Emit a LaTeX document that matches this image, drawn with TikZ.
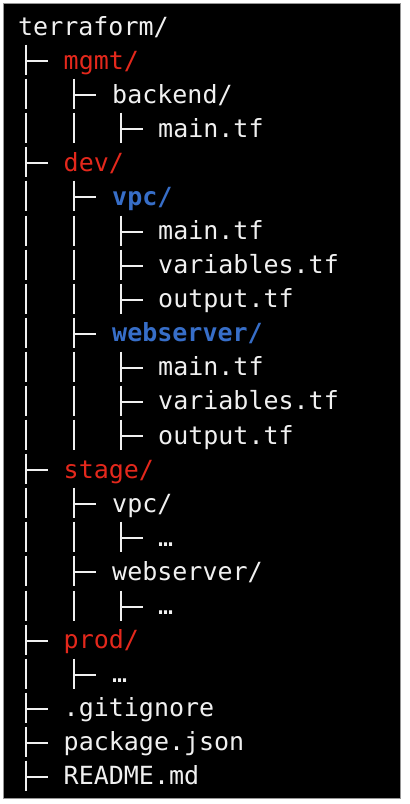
\documentclass[tikz,border=0pt]{standalone}
\usepackage{fontspec}
\setmonofont{DejaVu Sans Mono}
\definecolor{dirred}{RGB}{228,40,28}
\definecolor{dirblue}{RGB}{55,110,200}
\definecolor{ink}{RGB}{240,240,240}
\definecolor{frame}{RGB}{150,150,150}

\tikzset{
  entry/.style={anchor=base west, inner sep=0pt, text=ink,
    font=\ttfamily\fontsize{25}{25}\selectfont},
  topdir/.style={entry, text=dirred},
  subdir/.style={entry, text=dirblue,
    font=\ttfamily\bfseries\fontsize{25}{25}\selectfont},
  guide/.style={draw=ink, line width=2pt},
}

\begin{document}
\begin{tikzpicture}[x=1pt, y=-1pt]
  % page and terminal panel
  \useasboundingbox (0,0) rectangle (410,804);
  \fill[white] (0,0) rectangle (410,804);
  \draw[fill=black, draw=frame, line width=1pt] (3.5,3.5) rectangle (400.5,798.5);

  % tree guides: row / depth; verticals at every depth, stub at the deepest
  \foreach \r/\lv in {1/1,2/2,3/3,4/1,5/2,6/3,7/3,8/3,9/2,10/3,11/3,12/3,
                      13/1,14/2,15/3,16/2,17/3,18/1,19/2,20/1,21/1,22/1}{
    \pgfmathsetmacro\by{round(35+34.09*\r)}
    \foreach \k in {1,...,\lv}{
      \pgfmathsetmacro\gx{round(26+47.5*(\k-1))}
      \draw[guide] (\gx,\by-24.5) -- (\gx,\by+6);
    }
    \pgfmathsetmacro\tx{round(26+47.5*(\lv-1))-1}
    \draw[guide] (\tx,\by-8) -- (\tx+23,\by-8);
  }

  % entries
  \node[entry]  (n0)  at (18,  35.00) {terraform/};
  \node[topdir] (n1)  at (63.5, 69.09) {mgmt/};
  \node[entry]  (n2)  at (112, 103.18) {backend/};
  \node[entry]  (n3)  at (158, 137.27) {main.tf};
  \node[topdir] (n4)  at (63.5,171.36) {dev/};
  \node[subdir] (n5)  at (112, 205.45) {vpc/};
  \node[entry]  (n6)  at (158, 239.54) {main.tf};
  \node[entry]  (n7)  at (158, 273.63) {variables.tf};
  \node[entry]  (n8)  at (158, 307.72) {output.tf};
  \node[subdir] (n9)  at (112, 341.81) {webserver/};
  \node[entry]  (n10) at (158, 375.90) {main.tf};
  \node[entry]  (n11) at (158, 409.99) {variables.tf};
  \node[entry]  (n12) at (158, 444.08) {output.tf};
  \node[topdir] (n13) at (63.5,478.17) {stage/};
  \node[entry]  (n14) at (112, 512.26) {vpc/};
  \node[entry]  (n15) at (158, 546.35) {…};
  \node[entry]  (n16) at (112, 580.44) {webserver/};
  \node[entry]  (n17) at (158, 614.53) {…};
  \node[topdir] (n18) at (63.5,648.62) {prod/};
  \node[entry]  (n19) at (112, 682.71) {…};
  \node[entry]  (n20) at (63.5,716.80) {.gitignore};
  \node[entry]  (n21) at (63.5,750.89) {package.json};
  \node[entry]  (n22) at (63.5,784.98) {README.md};
\end{tikzpicture}
\end{document}
